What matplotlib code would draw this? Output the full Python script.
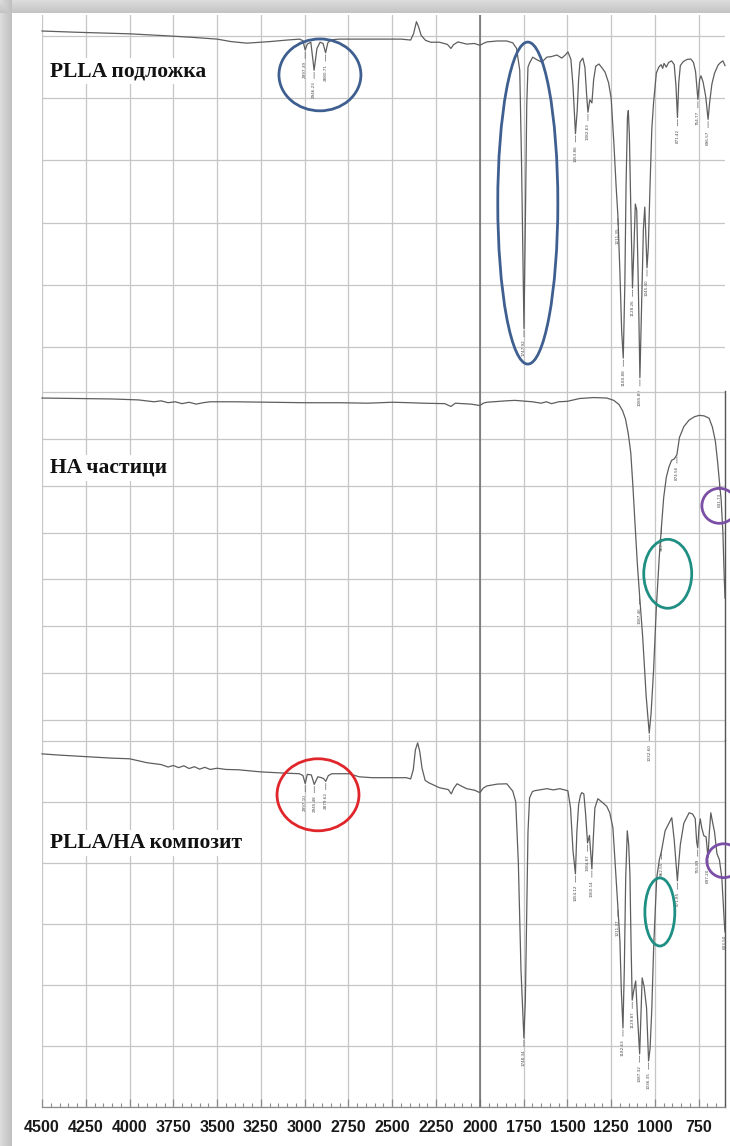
import numpy as np
import matplotlib
matplotlib.use("Agg")
import matplotlib.pyplot as plt
from matplotlib.patches import Ellipse
from matplotlib.ticker import MultipleLocator

# ---------------- spectra (wavenumber, cm-1 / transmittance, a.u.) ----------------
plla_wn = [4500, 4300, 4000, 3800, 3650, 3500, 3420, 3330, 3200, 3100, 3030, 3010,
           2997.39, 2985, 2965, 2946.23, 2930, 2912, 2895, 2880.71, 2868, 2850, 2800,
           2600, 2450, 2395, 2378, 2362, 2350, 2335, 2310, 2280, 2230, 2185, 2165, 2150,
           2125, 2075, 2030, 2000, 1980, 1960, 1900, 1846, 1812, 1790, 1772, 1762,
           1747.92, 1740, 1732, 1725, 1716, 1698, 1675, 1646, 1617, 1590, 1560, 1532,
           1510, 1497, 1480, 1468, 1453.86, 1444, 1436, 1428, 1412, 1400, 1390,
           1382.63, 1372, 1360, 1350, 1338, 1320, 1300, 1285, 1265, 1250, 1235, 1222,
           1211.35, 1200, 1190, 1180.88, 1172, 1165, 1157, 1152, 1146, 1138, 1128.26,
           1120, 1112, 1104, 1095, 1085.89, 1076, 1066, 1058, 1045.40, 1038, 1028,
           1018, 1008, 992, 978, 965, 956, 948, 935, 922, 905, 890, 880, 871.42, 864,
           855, 838, 815, 795, 780, 768, 754.77, 745, 737, 725, 710, 696.57, 688, 675,
           660, 640, 625, 612, 600]
plla_t = [101.6, 101.2, 100.7, 100.1, 99.6, 99.0, 98.2, 97.7, 98.2, 98.7, 99.0, 98.5,
          95.5, 97.4, 98.0, 89.0, 96.0, 98.0, 97.6, 94.6, 97.8, 98.8, 99.0,
          99.0, 99.0, 98.7, 100.8, 104.6, 103.0, 100.2, 98.6, 98.0, 98.0, 97.3, 96.0, 97.2,
          98.1, 97.4, 97.6, 97.0, 97.6, 98.1, 98.4, 98.4, 97.8, 96.0, 89.0, 60.0,
          6.0, 40.0, 78.0, 90.0, 91.3, 93.2, 92.4, 91.6, 93.2, 93.4, 93.9, 92.9,
          94.0, 94.9, 92.5, 84.0, 68.6, 76.0, 86.0, 91.6, 92.9, 90.0, 81.0,
          75.5, 79.5, 78.5, 86.0, 90.3, 91.0, 89.6, 88.4, 85.0, 80.0, 66.0, 52.0,
          42.0, 24.0, 5.0, -3.5, 20.0, 52.0, 74.0, 76.0, 68.0, 45.0, 19.0,
          32.0, 46.0, 44.0, 20.0, -9.8, 14.0, 38.0, 45.0, 25.5, 32.0, 52.0,
          70.0, 78.5, 88.1, 90.0, 90.8, 89.6, 91.2, 90.0, 91.5, 92.0, 90.8, 84.0, 73.8, 85.0,
          90.5, 91.8, 92.5, 92.6, 91.5, 88.5, 79.6, 86.0, 87.2, 85.2, 80.5, 73.2, 78.5, 84.5,
          88.0, 90.6, 91.5, 92.0, 90.5]
plla_peaks = [2997.39, 2946.23, 2880.71, 1747.92, 1453.86, 1382.63, 1211.35, 1180.88,
              1128.26, 1085.89, 1045.40, 871.42, 754.77, 696.57]

ha_wn = [4500, 4300, 4100, 3950, 3860, 3820, 3780, 3740, 3700, 3660, 3620, 3580, 3540,
         3400, 3200, 3000, 2800, 2640, 2500, 2400, 2325, 2200, 2165, 2140, 2100, 2050,
         2000, 1980, 1960, 1850, 1800, 1700, 1650, 1620, 1590, 1550, 1500, 1430, 1350,
         1275, 1235, 1205, 1185, 1168, 1152, 1138, 1126, 1114, 1100, 1087.46, 1070,
         1050, 1032.60, 1022, 1008, 992, 975, 962.35, 950, 935, 920, 905, 890, 874.56,
         860, 835, 805, 775, 748, 720, 691, 672, 655, 642, 631.73, 622, 612, 604, 600]
ha_t = [68.7, 68.6, 68.5, 68.3, 67.9, 68.1, 67.7, 67.9, 67.5, 67.8, 67.4, 67.7, 67.9,
        67.9, 67.8, 67.7, 67.7, 67.6, 67.8, 67.7, 67.6, 67.5, 66.9, 67.6, 67.5, 67.4,
        67.1, 67.6, 67.8, 68.1, 68.2, 67.9, 67.6, 67.9, 67.5, 67.9, 68.0, 68.6, 68.8,
        68.7, 68.2, 67.3, 66.0, 64.2, 61.0, 57.0, 50.0, 42.0, 33.0, 26.5, 17.7,
        5.0, -2.8, 1.5, 10.5, 24.0, 35.0, 41.5, 47.5, 51.8, 54.0, 55.4, 55.7, 56.6,
        60.3, 62.6, 64.0, 64.7, 65.0, 64.9, 64.4, 62.5, 59.5, 55.0, 50.8, 47.0, 40.0, 30.0, 26.0]
ha_peaks = [1087.46, 1032.60, 962.35, 874.56, 631.73]

comp_wn = [4500, 4400, 4250, 4100, 4000, 3900, 3820, 3780, 3750, 3720, 3690, 3660, 3630,
           3600, 3570, 3540, 3500, 3450, 3380, 3250, 3150, 3030, 3010, 2997.10, 2985,
           2962, 2945.48, 2925, 2905, 2892, 2879.62, 2865, 2845, 2745, 2690, 2615, 2420,
           2395, 2380, 2368, 2355, 2343, 2330, 2312, 2290, 2230, 2180, 2163, 2148, 2130,
           2100, 2075, 2030, 2000, 1980, 1960, 1900, 1846, 1812, 1795, 1780, 1765,
           1748.34, 1740, 1733, 1725, 1716, 1700, 1690, 1650, 1617, 1580, 1543, 1510,
           1497, 1482, 1468, 1454.12, 1446, 1436, 1426, 1418, 1406, 1396, 1384.87, 1374,
           1360.14, 1352, 1343, 1326, 1298, 1275, 1258, 1240, 1225, 1211.37, 1200, 1192,
           1182.63, 1175, 1167, 1158, 1150, 1143, 1136, 1129.87, 1120, 1110, 1100,
           1087.32, 1080, 1073, 1062, 1048, 1036.35, 1028, 1018, 1007, 990, 975, 962.55,
           942, 920, 904, 890, 871.85, 864, 855, 835, 805, 785, 770, 762, 755.89, 748,
           741, 733, 721, 708, 697.20, 690, 681, 670, 660, 646, 632, 618, 608, 603.50, 600]
comp_t = [95.7, 95.3, 94.8, 94.3, 94.1, 92.8, 92.2, 91.4, 91.9, 91.2, 91.8, 90.9, 91.5,
          90.7, 91.3, 90.6, 91.0, 90.6, 90.5, 89.8, 89.5, 89.2, 88.6, 86.0, 89.0,
          88.8, 85.7, 88.2, 87.9, 87.6, 86.7, 88.6, 89.2, 89.2, 88.2, 87.9, 87.9,
          87.5, 90.5, 97.0, 99.3, 96.5, 91.0, 87.0, 86.2, 84.6, 84.0, 82.6, 84.5, 85.9,
          85.0, 84.3, 83.8, 83.0, 84.5, 85.2, 85.8, 85.9, 83.5, 80.0, 60.0, 25.0,
          2.6, 15.0, 40.0, 70.0, 81.3, 83.3, 83.6, 84.0, 84.3, 83.9, 84.3, 83.8,
          83.6, 78.0, 64.0, 56.4, 70.0, 79.0, 82.0, 83.0, 82.6, 76.0, 66.5, 69.0,
          58.0, 68.0, 78.0, 81.0, 79.7, 78.5, 76.4, 71.5, 58.0, 45.2, 34.4, 18.0,
          5.9, 25.0, 55.0, 70.5, 66.0, 56.4, 32.0, 15.0, 18.5, 21.3, 10.0,
          -2.6, 10.0, 22.3, 19.5, 12.5, -4.9, -1.0, 12.0, 33.0, 55.0, 61.0, 63.9,
          70.5, 73.0, 74.8, 67.5, 54.1, 60.0, 66.0, 73.0, 76.4, 76.0, 74.5, 67.0, 64.9, 72.0,
          74.4, 71.5, 68.9, 68.5, 61.6, 69.5, 76.4, 73.0, 70.2, 63.0, 61.0, 55.0, 45.0, 40.0, 38.0]
comp_peaks = [2997.10, 2945.48, 2879.62, 1748.34, 1454.12, 1384.87, 1360.14, 1211.37,
              1182.63, 1129.87, 1087.32, 1036.35, 962.55, 871.85, 755.89, 697.20, 603.50]

x_ticks = [4500, 4250, 4000, 3750, 3500, 3250, 3000, 2750, 2500, 2250, 2000,
           1750, 1500, 1250, 1000, 750]
panel_names = ["PLLA подложка", "HA частици", "PLLA/HA композит"]

# ---------------- figure ----------------
W, H = 730, 1146
fig = plt.figure(figsize=(W / 100, H / 100), dpi=100)

# page with a soft grey frame on the left and top
bg = fig.add_axes([0, 0, 1, 1])
bg.set_axis_off()
page = np.ones((H, W))
edge_l, edge_t = 12, 13
for i in range(edge_l):
    page[:, i] = 0.86 - 0.12 * i / edge_l
for j in range(edge_t):
    page[j, :] = np.minimum(page[j, :], 0.86 - 0.10 * j / edge_t)
bg.imshow(page, cmap="gray", vmin=0, vmax=1, extent=(0, W, H, 0), aspect="auto",
          interpolation="bilinear")
bg.set_xlim(0, W)
bg.set_ylim(H, 0)

X0, X1 = 42, 725


def rect(top, bottom):
    return [X0 / W, 1 - bottom / H, (X1 - X0) / W, (bottom - top) / H]


ax1 = fig.add_axes(rect(15, 391))
ax2 = fig.add_axes(rect(391, 740))
ax3 = fig.add_axes(rect(740, 1107))

grid_col = "#c6c6c6"
line_col = "#5e5e5e"
setups = [
    (ax1, (-14.1, 106.75), np.arange(0, 101, 20)),
    (ax2, (-4.26, 70.2), np.arange(0, 71, 10)),
    (ax3, (-20, 100.25), np.arange(-20, 101, 20)),
]
for ax, ylim, yt in setups:
    ax.set_facecolor("none")
    ax.set_xlim(4500, 600)
    ax.set_ylim(*ylim)
    ax.set_xticks(x_ticks)
    ax.set_yticks(yt)
    ax.grid(True, color=grid_col, lw=0.9)
    ax.axvline(2000, color="#6a6a6a", lw=1.1, zorder=1)
    for s in ax.spines.values():
        s.set_visible(False)
    ax.tick_params(left=False, labelleft=False, bottom=False, labelbottom=False)
    ax.set_axisbelow(True)

for ax in (ax2, ax3):
    ax.spines["right"].set_visible(True)
    ax.spines["right"].set_color("#555555")
    ax.spines["right"].set_linewidth(1.0)

ax3.spines["bottom"].set_visible(True)
ax3.spines["bottom"].set_color("#8a8a8a")
ax3.spines["bottom"].set_linewidth(0.9)
ax3.xaxis.set_minor_locator(MultipleLocator(50))
ax3.tick_params(axis="x", which="major", bottom=True, labelbottom=True, direction="in",
                length=6, width=0.9, color="#8a8a8a", pad=9)
ax3.tick_params(axis="x", which="minor", bottom=True, direction="in", length=3,
                width=0.8, color="#8a8a8a")
ax3.set_xticklabels([str(v) for v in x_ticks],
                    fontdict=dict(family=["Liberation Sans Narrow", "Liberation Sans"],
                                  weight="bold", size=11.5, color="#1a1a1a"))


def mark_peaks(ax, wn, t, peaks):
    wr = np.asarray(wn, float)[::-1]
    tr = np.asarray(t, float)[::-1]
    for p in peaks:
        tp = np.interp(p, wr, tr)
        ax.annotate(f"{p:.2f}", xy=(p, tp), xytext=(0, -8), textcoords="offset points",
                    rotation=90, ha="center", va="top", fontsize=3, color="#4a4a4a",
                    annotation_clip=False,
                    arrowprops=dict(arrowstyle="-", color="#555555", lw=0.5,
                                    linestyle=(0, (1.5, 1)), shrinkA=0, shrinkB=1.5))


for ax, wn, t, pk in ((ax1, plla_wn, plla_t, plla_peaks),
                      (ax2, ha_wn, ha_t, ha_peaks),
                      (ax3, comp_wn, comp_t, comp_peaks)):
    ax.plot(wn, t, color=line_col, lw=0.9, zorder=3, clip_on=False)
    mark_peaks(ax, wn, t, pk)

# highlighted band regions
ell = dict(fill=False, lw=2.0, clip_on=False, zorder=5)
ax1.add_patch(Ellipse((2913, 87.5), 468, 23.1, edgecolor="#3e5f8f", **ell))
ax1.add_patch(Ellipse((1726, 46.3), 343, 103.5, edgecolor="#3e5f8f", **ell))
ax2.add_patch(Ellipse((927, 31.2), 274, 14.7, edgecolor="#1f8f84", **ell))
ax2.add_patch(Ellipse((632, 45.7), 200, 7.46, edgecolor="#7b4fa6", **ell))
ax3.add_patch(Ellipse((2924, 82.3), 468, 23.6, edgecolor="#e0262b", **ell))
ax3.add_patch(Ellipse((972, 43.9), 171, 22.3, edgecolor="#1f8f84", **ell))
ax3.add_patch(Ellipse((607, 60.7), 194, 11.1, edgecolor="#7b4fa6", **ell))

# sample names
for name, ypx in zip(panel_names, (71, 468, 843)):
    fig.text(50 / W, 1 - ypx / H, name, ha="left", va="center",
             family=["Liberation Serif", "DejaVu Serif"], weight="bold", size=15.5,
             color="#111111", zorder=10,
             bbox=dict(facecolor="white", edgecolor="none", pad=2.5))

fig.savefig("out.png", dpi=100, facecolor="white")
